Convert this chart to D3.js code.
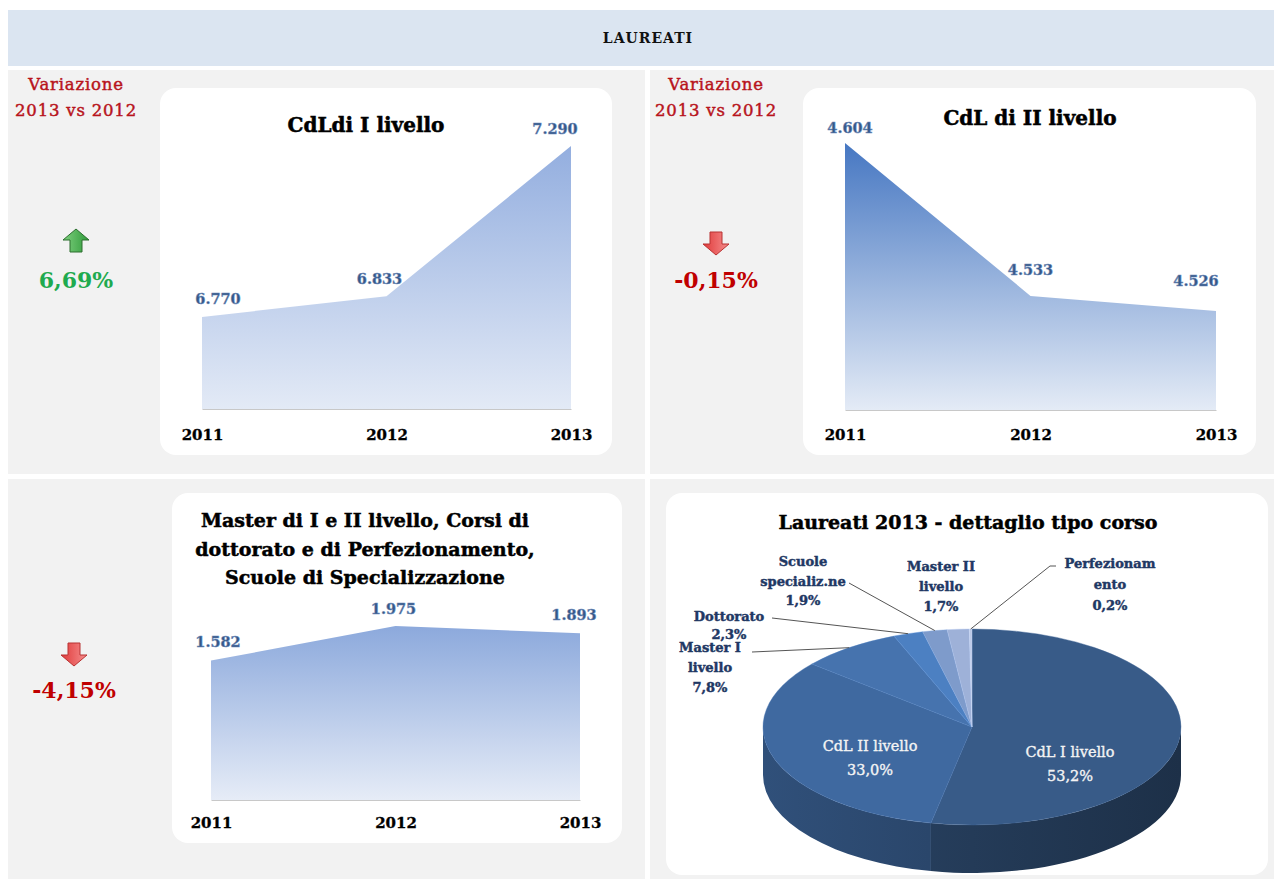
<!DOCTYPE html>
<html>
<head>
<meta charset="utf-8">
<script src="https://cdn.jsdelivr.net/npm/d3@7/dist/d3.min.js"></script>
<style>
  html, body { margin: 0; padding: 0; background: #ffffff; }
  svg { display: block; }
  text { font-family: "DejaVu Serif", "Liberation Serif", serif; }
</style>
</head>
<body>
<svg id="chart" width="1274" height="879"></svg>
<script>
// ---------------- DATA ----------------
const years = ["2011", "2012", "2013"];
const cdl1Values = [6770, 6833, 7290];
const cdl2Values = [4604, 4533, 4526];
const masterValues = [1582, 1975, 1893];

const chartTitles = [
  ["CdLdi I livello"],
  ["CdL di II livello"],
  ["Master di I e II livello, Corsi di", "dottorato e di Perfezionamento,", "Scuole di Specializzazione"]
];
const headerTitle = "LAUREATI";
const variationTitle = ["Variazione", "2013 vs 2012"];

const pieTitle = "Laureati 2013 - dettaglio tipo corso";
const pieLabels = ["CdL I livello", "CdL II livello", "Master I\nlivello", "Dottorato", "Scuole\nspecializ.ne", "Master II\nlivello", "Perfezionam\nento"];
const pieValues = [53.2, 33.0, 7.8, 2.3, 1.9, 1.7, 0.2];

// ---------------- HELPERS ----------------
const it = d3.formatLocale({decimal: ",", thousands: ".", grouping: [3], currency: ["€", ""]});
const fmtInt = it.format(",d");
const fmtPct = it.format(".2%");
const fmtPct1 = v => it.format(".1f")(v) + "%";

const svg = d3.select("#chart");
const defs = svg.append("defs");

// background panels
svg.append("rect").attr("x", 8).attr("y", 10).attr("width", 1266).attr("height", 56).attr("fill", "#dbe5f1");
svg.append("text").attr("x", 648).attr("y", 43).attr("text-anchor", "middle")
  .attr("font-size", 14).attr("font-weight", "bold").attr("letter-spacing", 1).attr("fill", "#111")
  .text(headerTitle);

const panels = [
  {x: 8, y: 70, w: 637, h: 404},
  {x: 650, y: 70, w: 624, h: 404},
  {x: 8, y: 479, w: 637, h: 400},
  {x: 650, y: 479, w: 624, h: 400}
];
svg.selectAll("rect.panel").data(panels).join("rect").attr("class", "panel")
  .attr("x", d => d.x).attr("y", d => d.y).attr("width", d => d.w).attr("height", d => d.h)
  .attr("fill", "#f2f2f2");

const cards = [
  {x: 160, y: 88, w: 452, h: 367},
  {x: 803, y: 88, w: 453, h: 367},
  {x: 172, y: 493, w: 450, h: 350},
  {x: 666, y: 493, w: 602, h: 382}
];
svg.selectAll("rect.card").data(cards).join("rect").attr("class", "card")
  .attr("x", d => d.x).attr("y", d => d.y).attr("width", d => d.w).attr("height", d => d.h)
  .attr("rx", 16).attr("ry", 16).attr("fill", "#ffffff");

// ---------------- AREA CHARTS ----------------
const areaCharts = [
  {values: cdl1Values, title: chartTitles[0], x0: 202, x1: 571, yBase: 409, yTop: 146, dmin: 6490,
   titleX: 366, titleY: 132, yearY: 440, dx: [16, -7, -16], dy: [-13, -12, -12], grad: ["#93aedf", "#e3eaf6"]},
  {values: cdl2Values, title: chartTitles[1], x0: 845, x1: 1216, yBase: 410, yTop: 143, dmin: 4480,
   titleX: 1030, titleY: 125, yearY: 440, dx: [5, 0, -20], dy: [-10, -21, -25], grad: ["#4677c2", "#e4ebf6"]},
  {values: masterValues, title: chartTitles[2], x0: 211, x1: 580, yBase: 800, yTop: 626, dmin: 0,
   titleX: 365, titleY: 527, yearY: 828, dx: [7, -2, -6], dy: [-14, -12, -13], grad: ["#8ca9dc", "#e6ecf7"]}
];

areaCharts.forEach((c, i) => {
  const g = svg.append("g");
  const x = d3.scalePoint().domain(years).range([c.x0, c.x1]);
  const y = d3.scaleLinear().domain([c.dmin, d3.max(c.values)]).range([c.yBase, c.yTop]);
  const data = years.map((yr, k) => ({year: yr, value: c.values[k]}));

  const gid = "areaGrad" + i;
  const lg = defs.append("linearGradient").attr("id", gid).attr("x1", 0).attr("y1", 0).attr("x2", 0).attr("y2", 1);
  lg.append("stop").attr("offset", "0%").attr("stop-color", c.grad[0]);
  lg.append("stop").attr("offset", "100%").attr("stop-color", c.grad[1]);

  const area = d3.area().x(d => x(d.year)).y0(y(c.dmin)).y1(d => y(d.value));
  g.append("path").datum(data).attr("d", area).attr("fill", `url(#${gid})`);

  // baseline axis
  const axis = d3.axisBottom(x).tickSize(0).tickPadding(0);
  const ax = g.append("g").attr("transform", `translate(0,${y(c.dmin)})`).call(axis);
  ax.select(".domain").attr("stroke", "#c8c8c8").attr("stroke-width", 1);
  ax.selectAll(".tick text").attr("y", c.yearY - y(c.dmin)).attr("dy", 0)
    .attr("font-family", "DejaVu Serif").attr("font-size", 15).attr("font-weight", "bold").attr("fill", "#000")
    .attr("stroke", "#000").attr("stroke-width", 0.3);

  // value labels
  g.selectAll("text.val").data(data).join("text").attr("class", "val")
    .attr("x", (d, k) => x(d.year) + c.dx[k]).attr("y", (d, k) => y(d.value) + c.dy[k])
    .attr("text-anchor", "middle").attr("font-size", 14.5).attr("font-weight", "bold")
    .attr("fill", "#355888").attr("stroke", "#6f8cbb").attr("stroke-width", 0.5)
    .text(d => fmtInt(d.value));

  // title
  const lh = 28.5;
  g.selectAll("text.title").data(c.title).join("text").attr("class", "title")
    .attr("x", c.titleX).attr("y", (d, k) => c.titleY + k * lh)
    .attr("text-anchor", "middle").attr("font-size", c.title.length > 1 ? 19 : 20).attr("font-weight", "bold")
    .attr("fill", "#000").attr("stroke", "#000").attr("stroke-width", 0.5)
    .text(d => d);
});

// ---------------- VARIATIONS ----------------
const variations = [
  {cx: 76, titleY: 90, arrowY: 241, pctY: 288, showTitle: true, vals: cdl1Values},
  {cx: 716, titleY: 90, arrowY: 243, pctY: 288, showTitle: true, vals: cdl2Values},
  {cx: 74, titleY: null, arrowY: 654, pctY: 698, showTitle: false, vals: masterValues}
];
const gUp = defs.append("linearGradient").attr("id", "gUp").attr("x1", 0).attr("y1", 0).attr("x2", 1).attr("y2", 0);
gUp.append("stop").attr("offset", "0%").attr("stop-color", "#7fd07f");
gUp.append("stop").attr("offset", "100%").attr("stop-color", "#2f9a3a");
const gDown = defs.append("linearGradient").attr("id", "gDown").attr("x1", 0).attr("y1", 0).attr("x2", 1).attr("y2", 0);
gDown.append("stop").attr("offset", "0%").attr("stop-color", "#f58d8d");
gDown.append("stop").attr("offset", "100%").attr("stop-color", "#e03a3a");

variations.forEach(v => {
  const change = (v.vals[2] - v.vals[1]) / v.vals[1];
  const up = change >= 0;
  const col = up ? "#1faa4f" : "#c00000";
  if (v.showTitle) {
    svg.selectAll(null).data(variationTitle).join("text")
      .attr("x", v.cx).attr("y", (d, k) => v.titleY + k * 26)
      .attr("text-anchor", "middle").attr("font-size", 16.5).attr("letter-spacing", 0.8)
      .attr("fill", "#b8141c").attr("stroke", "#b8141c").attr("stroke-width", 0.45).text(d => d);
  }
  // arrow shape (pointing up) built relative to centre
  const p = d3.path();
  const hw = 13, sw = 6, hh = 10, h = 11;
  p.moveTo(0, -h - 1);
  p.lineTo(hw, -h + hh);
  p.lineTo(sw, -h + hh);
  p.lineTo(sw, h);
  p.lineTo(-sw, h);
  p.lineTo(-sw, -h + hh);
  p.lineTo(-hw, -h + hh);
  p.closePath();
  svg.append("path").attr("d", p.toString())
    .attr("transform", `translate(${v.cx},${v.arrowY}) rotate(${up ? 0 : 180})`)
    .attr("fill", up ? "url(#gUp)" : "url(#gDown)")
    .attr("stroke", up ? "#2c6e2f" : "#b83232").attr("stroke-width", 1);
  svg.append("text").attr("x", v.cx).attr("y", v.pctY).attr("text-anchor", "middle")
    .attr("font-size", 22).attr("font-weight", "bold").attr("fill", col)
    .text(fmtPct(change).replace("−", "-"));
});

// ---------------- 3D PIE ----------------
const pieColors = ["#385b88", "#3f69a0", "#4673ae", "#4c80c2", "#7e9bcb", "#9eb1d8", "#bcc9e6"];
const pc = {cx: 972, cy: 727, rx: 209, ry: 98, depth: 48};
const pie = d3.pie().sort(null).value(d => d)(pieValues);
const pt = (a, dy = 0) => [pc.cx + pc.rx * Math.sin(a), pc.cy - pc.ry * Math.cos(a) + dy];

const gPie = svg.append("g");
gPie.append("text").attr("x", 968).attr("y", 529).attr("text-anchor", "middle")
  .attr("font-size", 19).attr("font-weight", "bold").attr("fill", "#000").attr("stroke", "#000").attr("stroke-width", 0.5)
  .text(pieTitle);

// side walls (front half only)
pie.forEach((s, i) => {
  const a0 = Math.max(s.startAngle, Math.PI / 2), a1 = Math.min(s.endAngle, 3 * Math.PI / 2);
  if (a0 >= a1) return;
  const gid = "side" + i;
  const base = d3.color(pieColors[i]);
  const lg = defs.append("linearGradient").attr("id", gid).attr("gradientUnits", "userSpaceOnUse")
    .attr("x1", pc.cx - pc.rx).attr("x2", pc.cx + pc.rx).attr("y1", 0).attr("y2", 0);
  lg.append("stop").attr("offset", "0%").attr("stop-color", base.darker(0.75));
  lg.append("stop").attr("offset", "100%").attr("stop-color", base.darker(1.8));
  const [xa, ya] = pt(a0), [xb, yb] = pt(a1);
  const d = `M${xa},${ya} A${pc.rx},${pc.ry} 0 0 1 ${xb},${yb} L${xb},${yb + pc.depth} A${pc.rx},${pc.ry} 0 0 0 ${xa},${ya + pc.depth} Z`;
  gPie.append("path").attr("d", d).attr("fill", `url(#${gid})`);
});
// top faces
pie.forEach((s, i) => {
  const [xa, ya] = pt(s.startAngle), [xb, yb] = pt(s.endAngle);
  const large = (s.endAngle - s.startAngle) > Math.PI ? 1 : 0;
  const d = `M${pc.cx},${pc.cy} L${xa},${ya} A${pc.rx},${pc.ry} 0 ${large} 1 ${xb},${yb} Z`;
  gPie.append("path").attr("d", d).attr("fill", pieColors[i]).attr("stroke", d3.color(pieColors[i]).brighter(0.3)).attr("stroke-width", 0.4);
});

// label layout (positions only)
const pieLabelLayout = [
  {cx: 1070, y: 757, inside: true},
  {cx: 870, y: 751, inside: true},
  {cx: 710, y: 652, lh: 20, line: [[752, 652]]},
  {cx: 729, y: 621, lh: 18, line: [[772, 618]]},
  {cx: 803, y: 566, lh: 19.5, line: [[849, 583]]},
  {cx: 941, y: 571, lh: 20, line: null},
  {cx: 1110, y: 568, lh: 21, line: [[1056, 566], [1050, 566]]}
];

pie.forEach((s, i) => {
  const L = pieLabelLayout[i];
  const lines = pieLabels[i].split("\n").concat([fmtPct1(pieValues[i])]);
  if (L.inside) {
    gPie.selectAll(null).data(lines).join("text")
      .attr("x", L.cx).attr("y", (d, k) => L.y + k * 24).attr("text-anchor", "middle")
      .attr("font-size", 14.5).attr("fill", "#f4f4f4").attr("stroke", "#f4f4f4").attr("stroke-width", 0.35)
      .text(d => d);
    return;
  }
  if (L.line) {
    const mid = (s.startAngle + s.endAngle) / 2;
    const pts = L.line.concat([pt(mid)]);
    gPie.append("path").attr("d", d3.line()(pts)).attr("fill", "none").attr("stroke", "#555").attr("stroke-width", 1);
  }
  gPie.selectAll(null).data(lines).join("text")
    .attr("x", L.cx).attr("y", (d, k) => L.y + k * L.lh).attr("text-anchor", "middle")
    .attr("font-size", 13).attr("font-weight", "bold").attr("fill", "#1f3864")
    .attr("stroke", "#1f3864").attr("stroke-width", 0.45)
    .text(d => d);
});
</script>
</body>
</html>
